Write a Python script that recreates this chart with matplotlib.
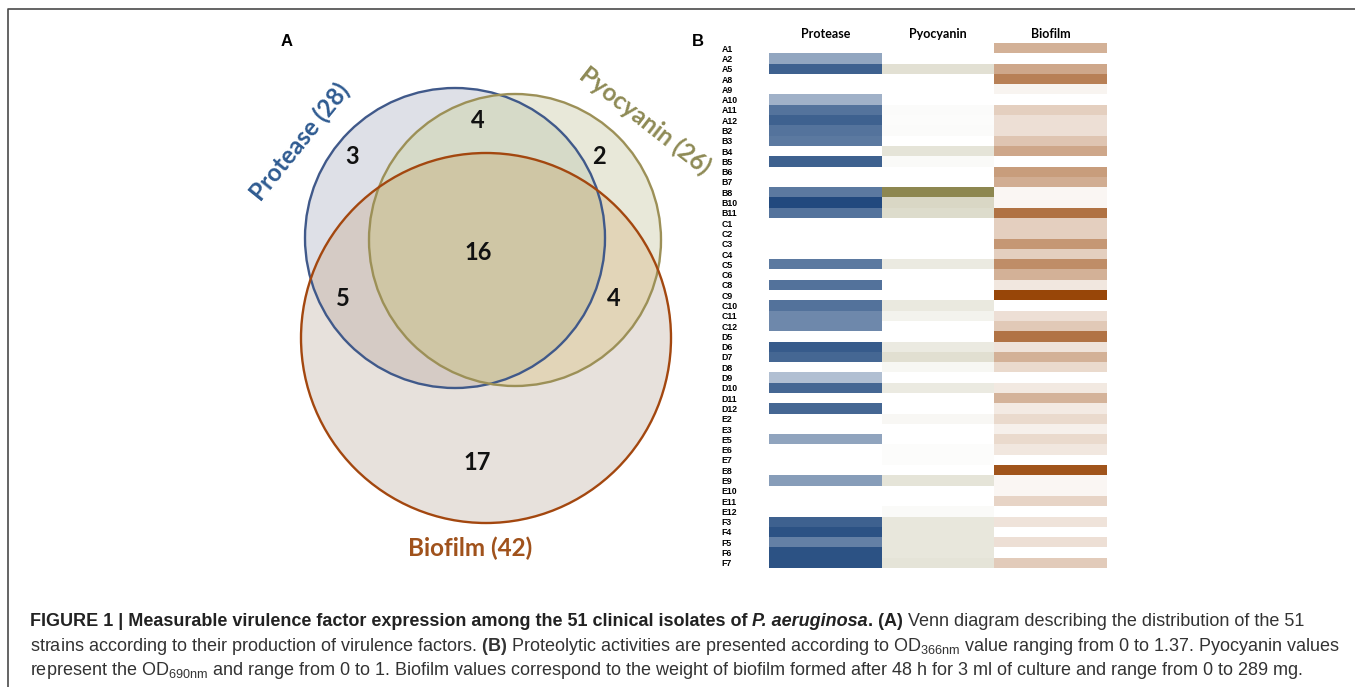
import numpy as np
import matplotlib
matplotlib.use("Agg")
import matplotlib.pyplot as plt
from matplotlib.colors import LinearSegmentedColormap, to_rgba
from matplotlib.patches import Circle

plt.rcParams['font.family'] = ['Liberation Sans', 'DejaVu Sans']
plt.rcParams['mathtext.fontset'] = 'custom'
plt.rcParams['mathtext.rm'] = 'Liberation Sans'
plt.rcParams['mathtext.bf'] = 'Liberation Sans:bold'
plt.rcParams['mathtext.it'] = 'Liberation Sans:italic'

# --- data ---
venn_sets = ['Protease', 'Pyocyanin', 'Biofilm']
venn_totals = [28, 26, 42]
# region counts: P only, Py only, B only, P&Py, P&B, Py&B, all
venn_counts = [3, 2, 17, 4, 5, 4, 16]

strains = ['A1', 'A2', 'A5', 'A8', 'A9', 'A10', 'A11', 'A12', 'B2', 'B3', 'B4', 'B5',
           'B6', 'B7', 'B8', 'B10', 'B11', 'C1', 'C2', 'C3', 'C4', 'C5', 'C6', 'C8',
           'C9', 'C10', 'C11', 'C12', 'D5', 'D6', 'D7', 'D8', 'D9', 'D10', 'D11', 'D12',
           'E2', 'E3', 'E5', 'E6', 'E7', 'E8', 'E9', 'E10', 'E11', 'E12',
           'F3', 'F4', 'F5', 'F6', 'F7']
# relative intensities (0 = not produced, 1 = max of each scale)
protease = [0, 0.48, 0.85, 0, 0, 0.42, 0.75, 0.85, 0.75, 0.72, 0, 0.85,
            0, 0, 0.72, 0.98, 0.75, 0, 0, 0, 0, 0.72, 0, 0.76,
            0, 0.76, 0.64, 0.64, 0, 0.88, 0.82, 0, 0.34, 0.82, 0, 0.82,
            0, 0, 0.49, 0, 0, 0, 0.53, 0, 0, 0,
            0.85, 0.93, 0.68, 0.93, 0.93]
pyocyanin = [0, 0, 0.25, 0, 0, 0, 0.03, 0.02, 0.03, 0, 0.22, 0.04,
             0, 0, 1.0, 0.33, 0.29, 0, 0, 0, 0, 0.17, 0, 0,
             0, 0.18, 0.1, 0, 0, 0.17, 0.26, 0.07, 0, 0.17, 0, 0,
             0.06, 0, 0, 0.02, 0.02, 0, 0.22, 0, 0, 0.04,
             0.2, 0.2, 0.2, 0.2, 0.22]
biofilm = [0.42, 0, 0.47, 0.68, 0.06, 0, 0.26, 0.17, 0.17, 0.31, 0.47, 0,
           0.53, 0.44, 0.05, 0.05, 0.76, 0.26, 0.26, 0.56, 0.26, 0.61, 0.42, 0.13,
           1.0, 0, 0.17, 0.29, 0.75, 0.15, 0.42, 0.2, 0, 0.12, 0.41, 0.11,
           0.2, 0.08, 0.2, 0.13, 0, 0.92, 0.05, 0.05, 0.23, 0,
           0.15, 0, 0.17, 0, 0.28]

fig = plt.figure(figsize=(13.55, 6.87), dpi=100)
ax = fig.add_axes([0, 0, 1, 1])
ax.set_xlim(0, 1355)
ax.set_ylim(687, 0)
ax.axis('off')

# frame
ax.plot([8, 8, 1355], [687, 9, 9], color='#4a4a4a', lw=1.2, solid_capstyle='butt')

# --- A: Venn diagram ---
centers = [(455, 238), (515, 240), (486, 338)]
radii = [150, 146, 185]
edge_cols = ['#40598a', '#9c9057', '#a3470f']
# fill colour per region code (bit0 = P, bit1 = Py, bit2 = B)
region_cols = {1: '#dee0e7', 2: '#e8e8d9', 4: '#e7e1dc', 3: '#d6dac8',
               5: '#d5cbc5', 6: '#e2d5b8', 7: '#cfc6a5'}
gx = np.arange(280, 690) + 0.5
gy = np.arange(70, 540) + 0.5
X, Y = np.meshgrid(gx, gy)
code = np.zeros(X.shape, dtype=int)
for k, ((cx, cy), r) in enumerate(zip(centers, radii)):
    code += ((X - cx) ** 2 + (Y - cy) ** 2 <= r ** 2).astype(int) << k
img = np.zeros(X.shape + (4,))
for c, col in region_cols.items():
    img[code == c] = to_rgba(col)
ax.imshow(img, extent=(280, 690, 540, 70), interpolation='bilinear', aspect='auto', zorder=1)
for (cx, cy), r, ec in zip(centers, radii, edge_cols):
    ax.add_patch(Circle((cx, cy), r, fill=False, ec=ec, lw=1.7, zorder=2))

count_pos = [(352, 156), (599, 156), (477, 462), (478, 120), (343, 299), (614, 299), (478, 253)]
for n, (x, y) in zip(venn_counts, count_pos):
    ax.text(x, y, str(n), ha='center', va='center', fontsize=17, fontweight='bold',
            family='Lato', color='#111111', zorder=3)

label_cols = ['#2f5b91', '#8e8a55', '#a0521c']
label_pos = [(300, 142), (645, 121), (470, 548)]
label_rot = [51, -38, 0]
for name, tot, col, (x, y), rot in zip(venn_sets, venn_totals, label_cols, label_pos, label_rot):
    ax.text(x, y, f'{name} ({tot})', ha='center', va='center', rotation=rot,
            rotation_mode='anchor', fontsize=17.5, fontweight='bold', family='Lato',
            color=col, zorder=3)

ax.text(287, 42, 'A', ha='center', va='center', fontsize=12, fontweight='bold')
ax.text(698, 41, 'B', ha='center', va='center', fontsize=12, fontweight='bold')

# --- B: heatmap ---
W, H = 1355, 687
hax = fig.add_axes([769 / W, 1 - 568 / H, (1107 - 769) / W, (568 - 43) / H])
cmaps = [LinearSegmentedColormap.from_list('prot', ['#ffffff', '#1d467c']),
         LinearSegmentedColormap.from_list('pyo', ['#ffffff', '#8d8750']),
         LinearSegmentedColormap.from_list('bio', ['#ffffff', '#984608'])]
for i, (vals, cm) in enumerate(zip([protease, pyocyanin, biofilm], cmaps)):
    hax.imshow(np.array(vals)[:, None], cmap=cm, vmin=0, vmax=1,
               extent=(i, i + 1, len(strains), 0), aspect='auto', interpolation='nearest')
hax.set_xlim(0, 3)
hax.set_ylim(len(strains), 0)
for s in hax.spines.values():
    s.set_visible(False)
hax.xaxis.tick_top()
hax.set_xticks([0.5, 1.5, 2.5], labels=venn_sets, fontsize=9, fontweight='bold', family='Lato')
hax.set_yticks(np.arange(len(strains)) + 0.5, labels=strains, fontsize=6.3, fontweight='bold')
hax.tick_params(length=0, axis='x', pad=2)
hax.tick_params(length=0, axis='y', pad=34)
for lbl in hax.get_yticklabels():
    lbl.set_ha('left')

# --- caption ---
fs = 13
t1 = ax.text(30, 630, 'FIGURE 1 | Measurable virulence factor expression among the 51 clinical isolates of ',
             fontsize=fs, fontweight='bold', va='bottom', color='#222222')
t2 = ax.annotate('P. aeruginosa', xy=(1, 0), xycoords=t1, va='bottom', fontsize=fs,
                 fontweight='bold', fontstyle='italic', color='#222222')
t3 = ax.annotate('. (A)', xy=(1, 0), xycoords=t2, va='bottom', fontsize=fs,
                 fontweight='bold', color='#222222')
ax.annotate(' Venn diagram describing the distribution of the 51', xy=(1, 0), xycoords=t3,
            va='bottom', fontsize=fs, color='#333333')
ax.text(30, 651, r'strains according to their production of virulence factors. $\mathbf{(B)}$ '
        r'Proteolytic activities are presented according to OD$_{\mathrm{366nm}}$ value ranging '
        r'from 0 to 1.37. Pyocyanin values', fontsize=fs, va='baseline', color='#333333')
ax.text(30, 675, r'represent the OD$_{\mathrm{690nm}}$ and range from 0 to 1. Biofilm values correspond '
        r'to the weight of biofilm formed after 48 h for 3 ml of culture and range from 0 to 289 mg.',
        fontsize=fs, va='baseline', color='#333333')

fig.savefig('out.png', dpi=100)
